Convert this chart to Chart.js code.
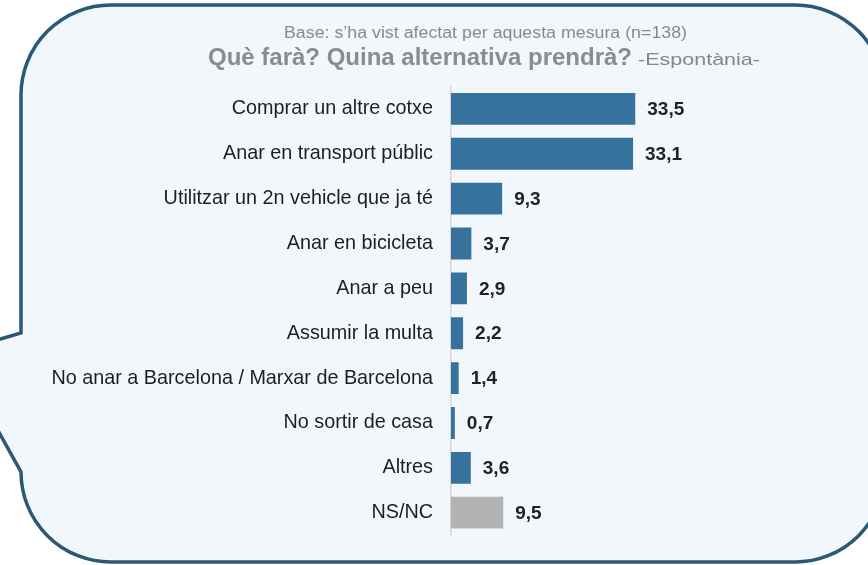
<!DOCTYPE html>
<html>
<head>
<meta charset="utf-8">
<script src="https://cdn.jsdelivr.net/npm/chart.js@4/dist/chart.umd.min.js"></script>
<style>
html,body{margin:0;padding:0;background:#fff;}
#wrap{width:868px;height:565px;position:relative;}
</style>
</head>
<body>
<div id="wrap"><canvas id="c" width="868" height="565"></canvas></div>
<script>
const categories = [
  "Comprar un altre cotxe",
  "Anar en transport públic",
  "Utilitzar un 2n vehicle que ja té",
  "Anar en bicicleta",
  "Anar a peu",
  "Assumir la multa",
  "No anar a Barcelona / Marxar de Barcelona",
  "No sortir de casa",
  "Altres",
  "NS/NC"
];
const values = [33.5, 33.1, 9.3, 3.7, 2.9, 2.2, 1.4, 0.7, 3.6, 9.5];
const valueLabels = ["33,5","33,1","9,3","3,7","2,9","2,2","1,4","0,7","3,6","9,5"];
const baseText = "Base: s’ha vist afectat per aquesta mesura (n=138)";
const titleMain = "Què farà? Quina alternativa prendrà?";
const titleSuffix = "-Espontània-";

const barColors = values.map((v,i)=> categories[i]==="NS/NC" ? "#b3b3b3" : "#36729d");
const FF = '"Liberation Sans", Arial, sans-serif';

function drawFit(ctx, text, font, x, y, targetW){
  ctx.font = font;
  const w = ctx.measureText(text).width;
  const sx = targetW / w;
  ctx.save();
  ctx.translate(x, y);
  ctx.scale(sx, 1);
  ctx.fillText(text, 0, 0);
  ctx.restore();
}

const bubble = {
  id:'bubble',
  beforeDraw(chart){
    const ctx = chart.ctx;
    ctx.save();
    ctx.fillStyle = '#fff';
    ctx.fillRect(0,0,chart.width,chart.height);
    const L=21, T=5, R=885, B=562, r=90;
    ctx.beginPath();
    ctx.moveTo(L+r, T);
    ctx.lineTo(R-r, T);
    ctx.arcTo(R, T, R, T+r, r);
    ctx.lineTo(R, B-r);
    ctx.arcTo(R, B, R-r, B, r);
    ctx.lineTo(L+r, B);
    ctx.arcTo(L, B, L, B-r, r);
    ctx.lineTo(L, 472);
    ctx.lineTo(-20, 398);
    ctx.lineTo(-20, 345);
    ctx.lineTo(L, 333);
    ctx.lineTo(L, T+r);
    ctx.arcTo(L, T, L+r, T, r);
    ctx.closePath();
    ctx.fillStyle = '#f2f7fb';
    ctx.fill();
    ctx.lineWidth = 3.5;
    ctx.strokeStyle = '#2b5876';
    ctx.stroke();
    // titles
    ctx.textAlign = 'left';
    ctx.textBaseline = 'alphabetic';
    ctx.fillStyle = '#8a8a8a';
    drawFit(ctx, baseText, '16px ' + FF, 284, 38, 403);
    ctx.fillStyle = '#8c8c8c';
    drawFit(ctx, titleMain, 'bold 24px ' + FF, 208, 65, 424);
    ctx.fillStyle = '#858585';
    drawFit(ctx, titleSuffix, '17px ' + FF, 638, 65, 122);
    ctx.restore();
  }
};

const valuePlugin = {
  id:'vals',
  afterDatasetsDraw(chart){
    const ctx = chart.ctx;
    const meta = chart.getDatasetMeta(0);
    ctx.save();
    ctx.font = 'bold 19px ' + FF;
    ctx.fillStyle = '#222';
    ctx.textAlign = 'left';
    ctx.textBaseline = 'middle';
    meta.data.forEach((bar,i)=>{
      ctx.fillText(valueLabels[i], bar.x + 12, bar.y + 1);
    });
    ctx.restore();
  }
};

new Chart(document.getElementById('c'), {
  type:'bar',
  data:{
    labels: categories,
    datasets:[{
      data: values,
      backgroundColor: barColors,
      borderWidth: 0,
      barPercentage: 0.71,
      categoryPercentage: 1
    }]
  },
  options:{
    indexAxis:'y',
    responsive:false,
    animation:false,
    events:[],
    layout:{padding:{top:86.5, bottom:27.5, left:0, right:87}},
    plugins:{legend:{display:false}, tooltip:{enabled:false}, title:{display:false}},
    scales:{
      x:{display:false, min:0, max:60},
      y:{
        afterFit(s){ s.width = 451; },
        grid:{display:false, drawTicks:false},
        border:{display:true, color:'#d4d8dc', width:1.5},
        ticks:{
          padding:18,
          color:'#1e1e1e',
          font:{family:FF, size:19.8}
        }
      }
    }
  },
  plugins:[bubble, valuePlugin]
});
</script>
</body>
</html>
